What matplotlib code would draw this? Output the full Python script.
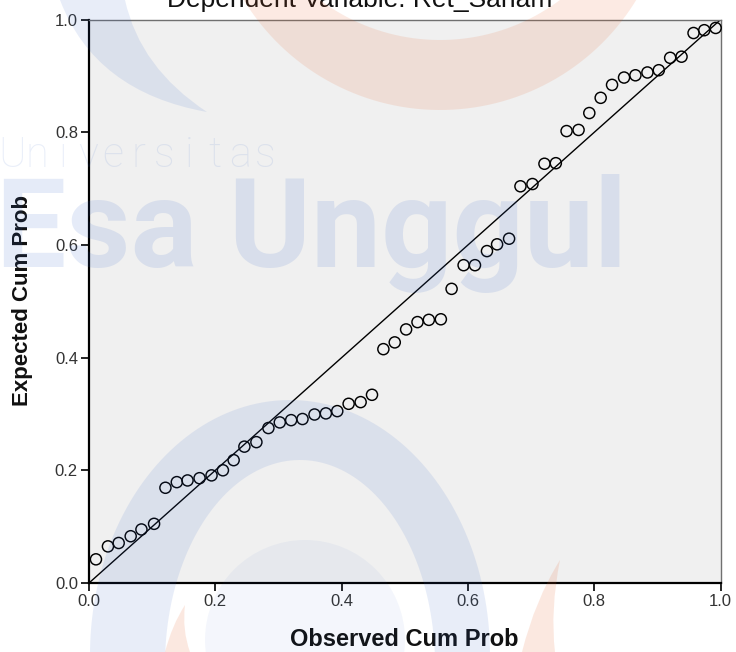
import numpy as np
import matplotlib
matplotlib.use("Agg")
import matplotlib.pyplot as plt
from matplotlib.path import Path
from matplotlib.patches import PathPatch, Circle

# P-P plot data
observed = [0.011, 0.030, 0.047, 0.066, 0.083, 0.103, 0.121, 0.139, 0.156, 0.175,
            0.194, 0.212, 0.229, 0.246, 0.265, 0.284, 0.302, 0.320, 0.338, 0.357,
            0.375, 0.393, 0.411, 0.430, 0.448, 0.466, 0.484, 0.502, 0.520, 0.538,
            0.557, 0.574, 0.593, 0.611, 0.630, 0.646, 0.665, 0.683, 0.702, 0.721,
            0.739, 0.756, 0.775, 0.792, 0.810, 0.828, 0.847, 0.865, 0.884, 0.902,
            0.920, 0.938, 0.957, 0.974, 0.992]
expected = [0.042, 0.065, 0.071, 0.083, 0.095, 0.105, 0.169, 0.179, 0.182, 0.186,
            0.191, 0.200, 0.218, 0.242, 0.250, 0.275, 0.285, 0.289, 0.291, 0.299,
            0.301, 0.305, 0.318, 0.321, 0.334, 0.415, 0.427, 0.450, 0.463, 0.467,
            0.468, 0.522, 0.564, 0.564, 0.589, 0.601, 0.611, 0.704, 0.708, 0.744,
            0.745, 0.802, 0.804, 0.834, 0.861, 0.884, 0.897, 0.901, 0.906, 0.910,
            0.932, 0.934, 0.976, 0.981, 0.985]
ref_line = [0.0, 1.0]
ticks = [0.0, 0.2, 0.4, 0.6, 0.8, 1.0]

title = "Dependent Variable: Ret_Saham"
xlabel = "Observed Cum Prob"
ylabel = "Expected Cum Prob"

W, H = 736, 652
fig = plt.figure(figsize=(W / 100, H / 100), dpi=100)
fig.patch.set_facecolor("white")

ax = fig.add_axes([89 / W, 1 - 583 / H, 631.7 / W, 563.5 / H])
ax.set_facecolor("#f0f0f0")
ax.plot(ref_line, ref_line, color="black", lw=1.0, zorder=2)
ax.scatter(observed, expected, s=64, facecolors="none", edgecolors="black",
           linewidths=1.05, zorder=3, clip_on=False)
ax.set_xlim(0, 1)
ax.set_ylim(0, 1)
ax.set_xticks(ticks)
ax.set_yticks(ticks)
ax.set_xticklabels([f"{t:.1f}" for t in ticks])
ax.set_yticklabels([f"{t:.1f}" for t in ticks])
for s in ["left", "bottom"]:
    ax.spines[s].set_color("black")
    ax.spines[s].set_linewidth(1.6)
for s in ["top", "right"]:
    ax.spines[s].set_color("#707070")
    ax.spines[s].set_linewidth(1.0)
ax.tick_params(direction="out", length=6, width=1.2, color="black",
               labelsize=12, labelcolor="#333333", pad=2)
for lab in ax.get_xticklabels() + ax.get_yticklabels():
    lab.set_family("Liberation Sans")

fig.text(360 / W, 1 - 7 / H, title, ha="center", va="baseline",
         fontsize=19, family="Liberation Sans", color="#111111")
fig.text(404 / W, 1 - 640 / H, xlabel, ha="center", va="center",
         fontsize=17, weight="bold", family="Liberation Sans", color="#111111")
fig.text(23 / W, 1 - 301 / H, ylabel, ha="center", va="center", rotation=90,
         fontsize=16, weight="bold", family="Liberation Sans", color="#111111")

# watermark overlay (pixel coords, y down)
ov = fig.add_axes([0, 0, 1, 1], zorder=10)
ov.set_xlim(0, W)
ov.set_ylim(H, 0)
ov.axis("off")
ov.patch.set_alpha(0)

blue = "#2f62c8"
orange = "#e8622a"


def ellipse_pts(cx, cy, rx, ry, rev=False, n=200):
    t = np.linspace(0, 2 * np.pi, n)
    if rev:
        t = t[::-1]
    return np.column_stack([cx + rx * np.cos(t), cy + ry * np.sin(t)])


def ring(outer, inner, color, alpha):
    a = ellipse_pts(*outer)
    b = ellipse_pts(*inner, rev=True)
    verts = np.vstack([a, b])
    codes = ([Path.MOVETO] + [Path.LINETO] * (len(a) - 1)
             + [Path.MOVETO] + [Path.LINETO] * (len(b) - 1))
    ov.add_patch(PathPatch(Path(verts, codes), facecolor=color,
                           edgecolor="none", alpha=alpha))


def sliver(pts, color, alpha):
    codes = [Path.MOVETO, Path.CURVE3, Path.CURVE3, Path.CURVE3, Path.CURVE3,
             Path.CLOSEPOLY]
    ov.add_patch(PathPatch(Path(pts + [pts[0]], codes), facecolor=color,
                           edgecolor="none", alpha=alpha))


# top orange crescent
ring((440, -120, 230, 230), (440, -160, 200, 200), orange, 0.13)
# top-left blue crescent
sliver([(60, 0), (95, 92), (207, 112), (140, 68), (125, 0)], blue, 0.11)
# bottom blue ring and inner glow
ring((290, 655, 200, 255), (300, 665, 135, 205), blue, 0.11)
ov.add_patch(Circle((305, 640), 100, facecolor=blue, edgecolor="none", alpha=0.05))
# bottom orange slivers
sliver([(165, 652), (172, 625), (185, 605), (182, 630), (190, 652)], orange, 0.14)
sliver([(522, 652), (535, 600), (560, 560), (550, 610), (555, 652)], orange, 0.14)

ov.text(-4, 267, "Esa Unggul", fontsize=90, family="Roboto", weight="bold",
        color=blue, alpha=0.12, ha="left", va="baseline")
for i, ch in enumerate("Universitas"):
    ov.text(12 + 25.3 * i, 167, ch, fontsize=30, family="Roboto", weight="light",
            color=blue, alpha=0.1, ha="center", va="baseline")

fig.savefig("out.png", dpi=100)
